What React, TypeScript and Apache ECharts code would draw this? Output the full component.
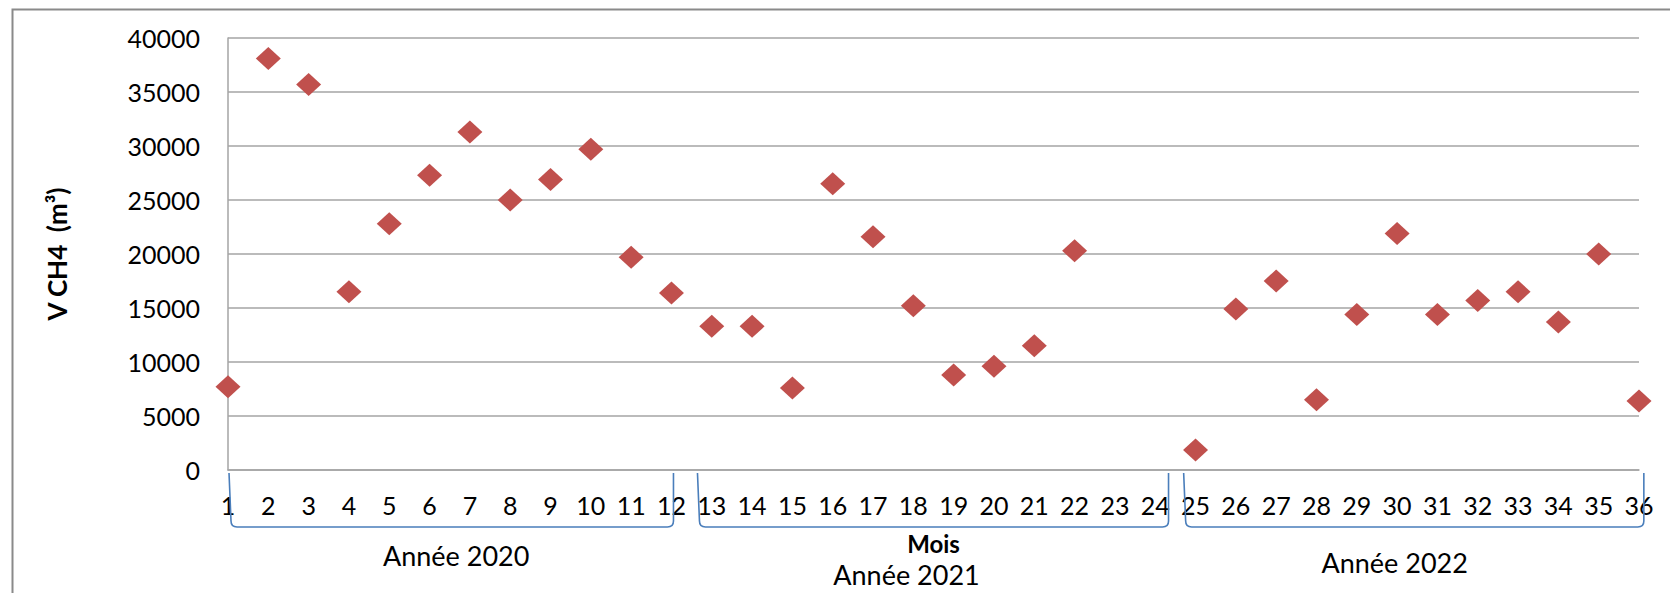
import React, { useEffect, useRef } from "react";
import * as echarts from "echarts";

// Months (x axis)
const months = [1, 2, 3, 4, 5, 6, 7, 8, 9, 10, 11, 12, 13, 14, 15, 16, 17, 18, 19, 20, 21, 22, 23, 24, 25, 26, 27, 28, 29, 30, 31, 32, 33, 34, 35, 36];
// Methane volume V CH4 (m3) per month
const vch4: (number | null)[] = [
  7700, 38100, 35700, 16500, 22800, 27300, 31300, 25000, 26900, 29700, 19700, 16400,
  13300, 13300, 7600, 26500, 21600, 15200, 8800, 9600, 11500, 20300, null, null,
  1850, 14900, 17500, 6500, 14400, 21900, 14400, 15700, 16500, 13700, 20000, 6400,
];
// Y axis ticks
const yMin = 0;
const yMax = 40000;
const yStep = 5000;
// Year groups: bracket start month, bracket end month, label anchor month
const yearLabels = ["Année 2020", "Année 2021", "Année 2022"];
const yearBrackets = [
  [1.05, 12.05, 6.66],
  [12.67, 24.33, 17.83],
  [24.73, 36.12, 29.94],
];
// label vertical offsets below the axis (layout only)
const yearLabelOffsets = [85, 104, 92];

export default function App() {
  const ref = useRef<HTMLDivElement>(null);
  useEffect(() => {
    if (!ref.current) return;
    const chart = echarts.init(ref.current, null, { renderer: "svg" });
    const scatterData = months
      .map((m, i) => [m, vch4[i]])
      .filter((d) => d[1] !== null);
    const option: any = {
      animation: false,
      backgroundColor: "#ffffff",
      textStyle: { fontFamily: "Lato" },
      graphic: [
        {
          type: "rect",
          left: 10,
          top: 7,
          shape: { x: 0, y: 0, width: 1700, height: 700 },
          style: { fill: "none", stroke: "#8a8a8a", lineWidth: 2 },
          z: -1,
        },
      ],
      grid: { left: 228, top: 38, width: 1411, height: 432, containLabel: false },
      xAxis: {
        type: "value",
        min: 1,
        max: 36,
        interval: 1,
        name: "Mois",
        nameLocation: "middle",
        nameGap: 62,
        nameTextStyle: {
          fontFamily: "Lato",
          fontWeight: "bold",
          fontSize: 24,
          lineHeight: 22,
          color: "#000",
        },
        axisLine: { show: true, lineStyle: { color: "#a5a5a5", width: 1.5 } },
        axisTick: { show: false },
        splitLine: { show: false },
        axisLabel: {
          fontFamily: "Lato",
          fontSize: 25,
          color: "#000",
          margin: 22,
          formatter: (v: number) => String(v),
        },
      },
      yAxis: {
        type: "value",
        min: yMin,
        max: yMax,
        interval: yStep,
        name: "V CH4  (m³)",
        nameLocation: "middle",
        nameRotate: 90,
        nameGap: 158,
        nameTextStyle: { fontFamily: "Lato", fontWeight: "bold", fontSize: 26, color: "#000" },
        axisLine: { show: true, lineStyle: { color: "#a5a5a5", width: 1.5 } },
        axisTick: { show: false },
        splitLine: { show: true, lineStyle: { color: "#a5a5a5", width: 1.5 } },
        axisLabel: {
          fontFamily: "Lato",
          fontSize: 25,
          color: "#000",
          margin: 28,
          formatter: (v: number) => String(v),
        },
      },
      series: [
        {
          type: "scatter",
          data: scatterData,
          symbol: "diamond",
          symbolSize: [25, 23],
          itemStyle: { color: "#C0504D", opacity: 1 },
          z: 5,
        },
        {
          type: "custom",
          clip: false,
          silent: true,
          data: yearBrackets,
          encode: { x: [0, 1] },
          renderItem: (params: any, api: any) => {
            const i = params.dataIndex;
            const pL = api.coord([api.value(0), 0]);
            const pR = api.coord([api.value(1), 0]);
            const pT = api.coord([api.value(2), 0]);
            const top = pL[1] + 3;
            const bot = pL[1] + 57;
            const r = 6;
            const d =
              `M${pL[0] - 1} ${top} L${pL[0] + 1} ${bot - r} ` +
              `Q${pL[0] + 1} ${bot} ${pL[0] + 1 + r} ${bot} ` +
              `L${pR[0] - r} ${bot} Q${pR[0]} ${bot} ${pR[0]} ${bot - r} ` +
              `L${pR[0]} ${top}`;
            return {
              type: "group",
              children: [
                {
                  type: "path",
                  shape: { pathData: d },
                  style: { stroke: "#4a7ebb", fill: "none", lineWidth: 1.6 },
                },
                {
                  type: "text",
                  x: pT[0],
                  y: pL[1] + yearLabelOffsets[i],
                  style: {
                    text: yearLabels[i],
                    fill: "#000",
                    fontFamily: "Lato",
                    fontSize: 27,
                    lineHeight: 24,
                    align: "center",
                    verticalAlign: "middle",
                  },
                },
              ],
            };
          },
        },
      ],
    };
    chart.setOption(option);
    return () => chart.dispose();
  }, []);
  return (
    <div
      ref={ref}
      style={{ position: "fixed", left: 0, top: 0, width: 1670, height: 593 }}
    />
  );
}
